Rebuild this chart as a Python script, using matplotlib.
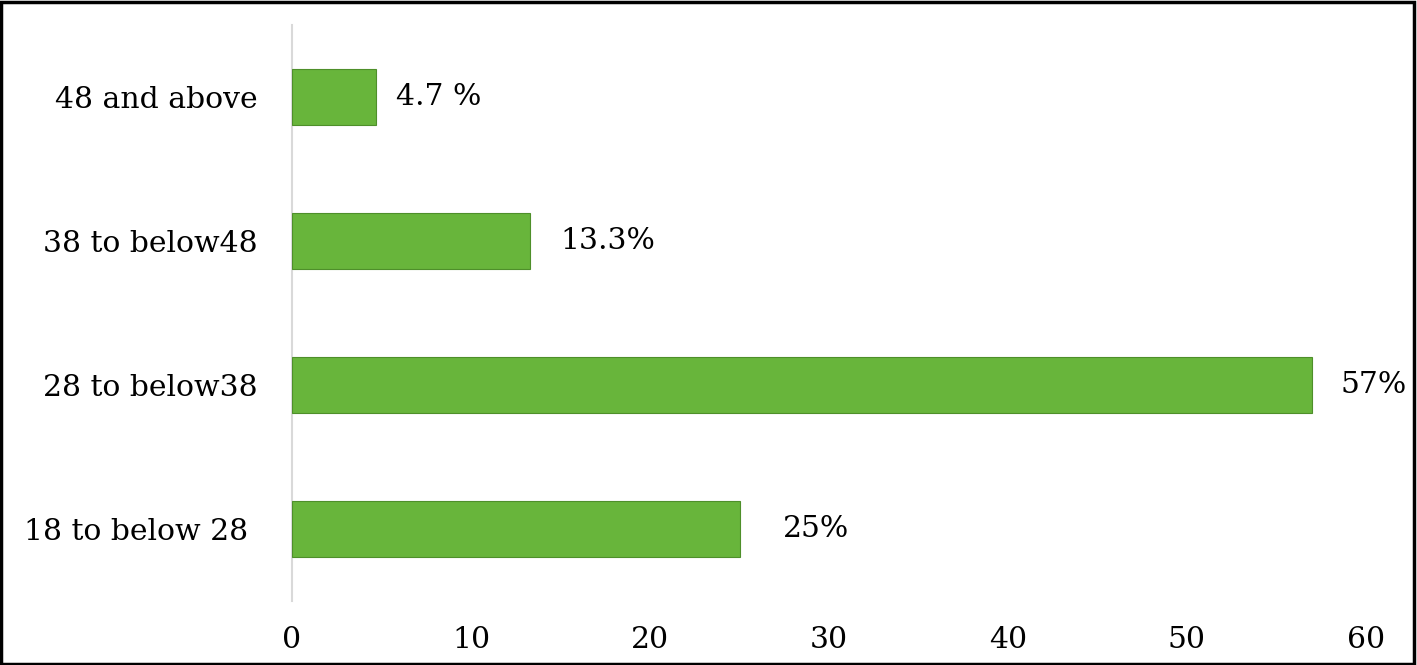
import matplotlib
matplotlib.use("Agg")
import matplotlib.pyplot as plt
from matplotlib.patches import Rectangle

categories = ["18 to below 28 ", "28 to below38", "38 to below48", "48 and above"]
values = [25, 57, 13.3, 4.7]
value_labels = ["25%", "57%", "13.3%", "4.7 %"]
label_offsets = [43, 28, 30, 20]  # pixel gap after bar end
xticks = [0, 10, 20, 30, 40, 50, 60]

font = "DejaVu Serif"
fs = 21.5

fig = plt.figure(figsize=(14.17, 6.65), dpi=100)
ax = fig.add_axes([292/1417, 1 - 601/665, (1366 - 292)/1417, (601 - 25)/665])

ax.barh(range(len(categories)), values, height=0.39, color="#68B53B",
        edgecolor="#4E8F2A", linewidth=0.8, zorder=3)

ax.set_xlim(0, 60)
ax.set_ylim(-0.5, 3.5)
ax.set_xticks(xticks)
ax.set_xticklabels([str(t) for t in xticks], fontfamily=font, fontsize=fs)
ax.set_yticks(range(len(categories)))
ax.set_yticklabels(categories, fontfamily=font, fontsize=fs)
ax.tick_params(axis="x", length=0, pad=18)
ax.tick_params(axis="y", length=0, pad=24.5)

for s in ["top", "right", "bottom"]:
    ax.spines[s].set_visible(False)
ax.spines["left"].set_color("#D9D9D9")
ax.spines["left"].set_linewidth(1.5)

for i, (v, lab, off) in enumerate(zip(values, value_labels, label_offsets)):
    ax.annotate(lab, xy=(v, i), xytext=(off * 0.72, 0), textcoords="offset points",
                ha="left", va="center", fontfamily=font, fontsize=fs)

fig.patches.append(Rectangle((0.001, 0.002), 0.997, 0.995, transform=fig.transFigure,
                             fill=False, edgecolor="black", linewidth=2.5))

fig.savefig("out.png", dpi=100)
